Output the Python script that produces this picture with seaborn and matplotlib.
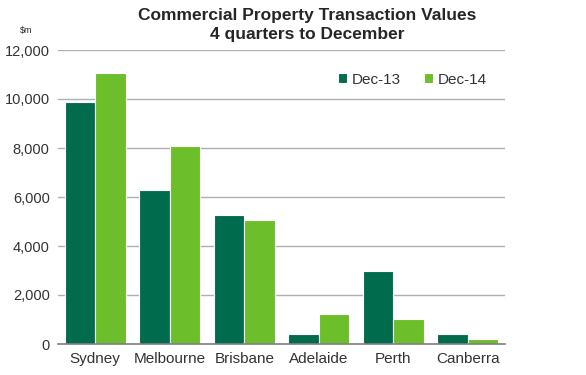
import seaborn as sns
import matplotlib.pyplot as plt
import pandas as pd

cities = ['Sydney', 'Melbourne', 'Brisbane', 'Adelaide', 'Perth', 'Canberra']
dec13 = [9880, 6280, 5270, 420, 2980, 420]
dec14 = [11060, 8080, 5060, 1230, 1030, 210]
yticks = [0, 2000, 4000, 6000, 8000, 10000, 12000]

df = pd.DataFrame({
    'city': cities * 2,
    'value': dec13 + dec14,
    'period': ['Dec-13'] * len(cities) + ['Dec-14'] * len(cities),
})

sns.set_theme(style='white')
plt.rcParams['font.family'] = ['Liberation Sans', 'DejaVu Sans']

fig = plt.figure(figsize=(5.86, 3.75), dpi=100)
ax = fig.add_axes([58 / 586, 31 / 375, 447 / 586, 294 / 375])

sns.barplot(data=df, x='city', y='value', hue='period', ax=ax,
            palette=['#006B4D', '#6CBE2B'], width=0.82,
            edgecolor='white', linewidth=0.8, saturation=1)

ax.set_ylim(0, 12000)
ax.set_xlim(-0.5, 5.5)
ax.set_yticks(yticks)
ax.set_yticklabels([f'{v:,}' for v in yticks], fontsize=10.5, color='#333333')
ax.tick_params(axis='x', labelsize=11, colors='#333333', length=0, pad=6)
ax.tick_params(axis='y', length=0, pad=6)
ax.yaxis.grid(True, color='#b0b0b0', linewidth=1)
ax.set_axisbelow(True)
ax.set_xlabel('')
ax.set_ylabel('')
for s in ['top', 'right', 'left']:
    ax.spines[s].set_visible(False)
ax.spines['bottom'].set_color('#808080')
ax.spines['bottom'].set_linewidth(1.2)

ax.legend(loc='upper right', bbox_to_anchor=(0.99, 0.97), frameon=False,
          ncol=2, fontsize=11, handlelength=0.6, handleheight=0.6,
          handletextpad=0.3, columnspacing=1.5, labelcolor='#333333')

fig.text(307 / 586, 1 - 25 / 375, 'Commercial Property Transaction Values\n4 quarters to December',
         ha='center', va='center', fontsize=12.5, fontweight='bold', linespacing=1.3)
fig.text(20 / 586, 1 - 30 / 375, '$m', ha='left', va='center', fontsize=6.5)

fig.savefig('out.png', dpi=100)
